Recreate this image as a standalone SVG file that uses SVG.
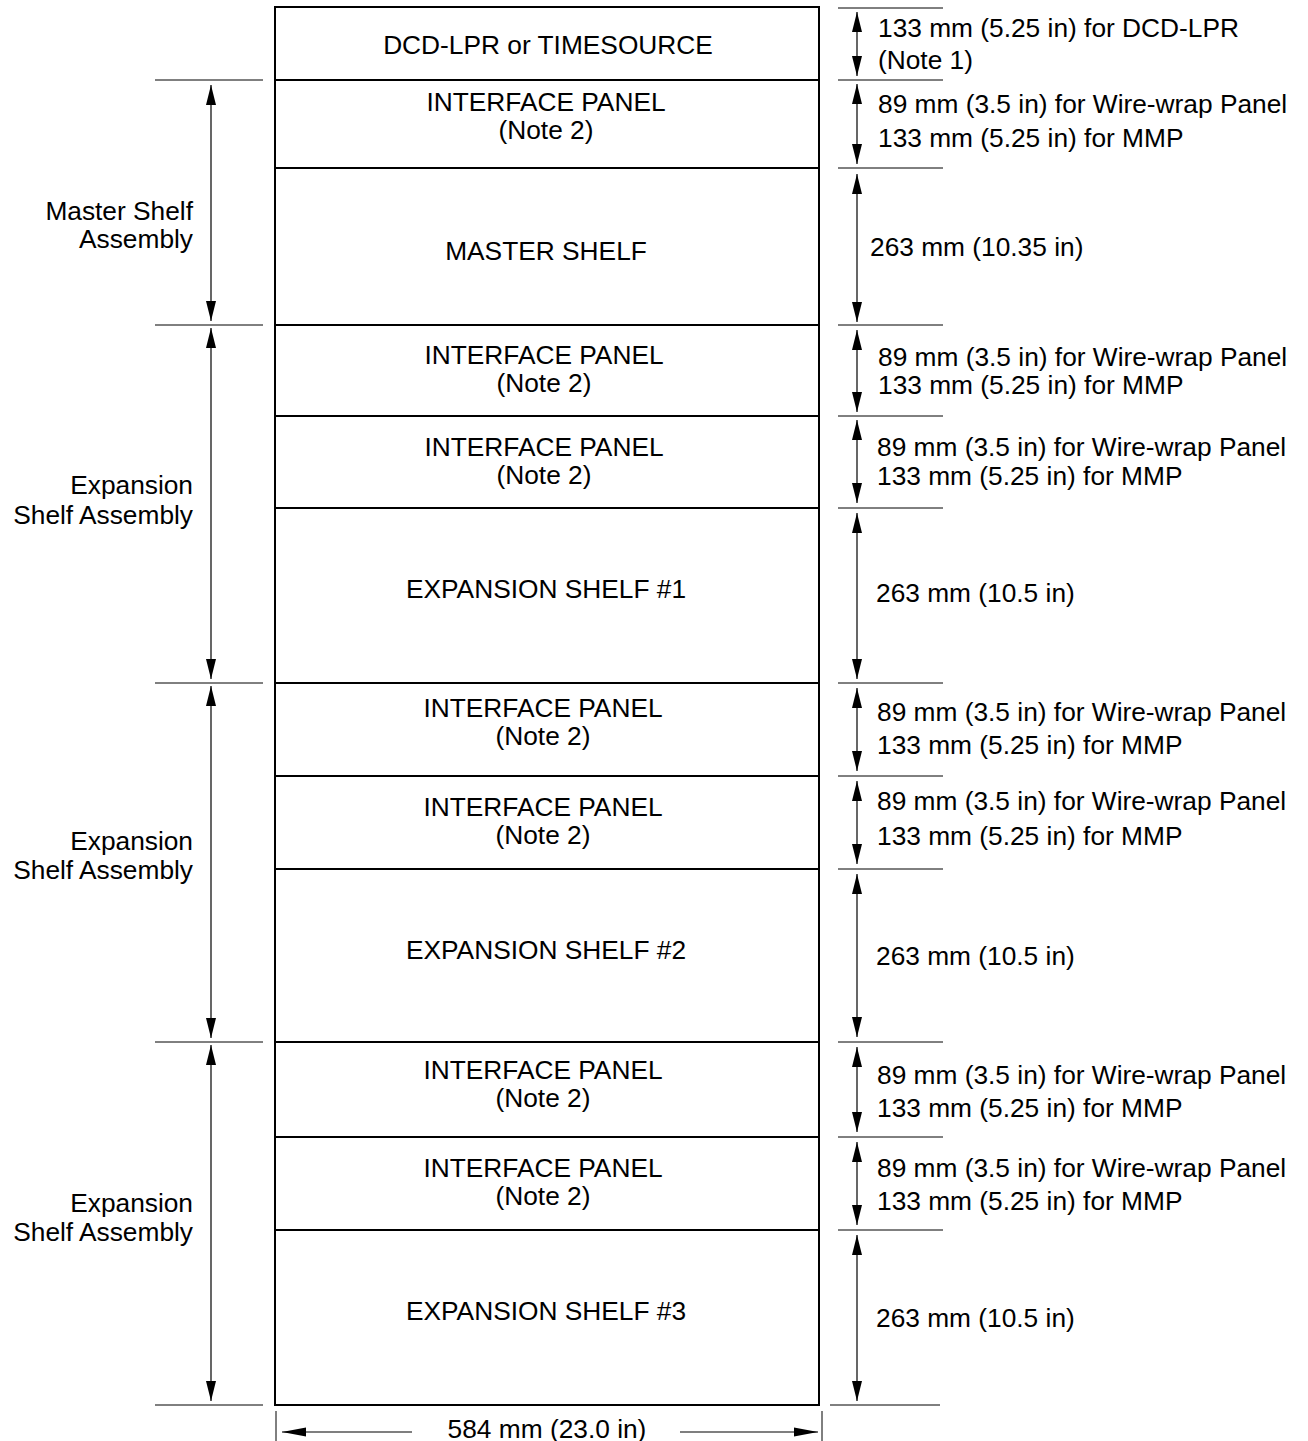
<svg xmlns="http://www.w3.org/2000/svg" width="1308" height="1441" viewBox="0 0 1308 1441">
<style>
text{font-family:"Liberation Sans",Arial,sans-serif;font-size:26.3px;fill:#000}
.c{text-anchor:middle}
.r{text-anchor:end}
.box{fill:#fff;stroke:#000;stroke-width:2}
.ext{stroke:#000;stroke-width:1}
.dim{stroke:#000;stroke-width:1.2;marker-start:url(#ah);marker-end:url(#ah)}
.dimh{stroke:#000;stroke-width:1.2;marker-end:url(#ah2)}
</style>
<defs>
<marker id="ah" markerUnits="userSpaceOnUse" markerWidth="20" markerHeight="11" refX="20" refY="5.5" orient="auto-start-reverse" viewBox="0 0 20 11">
<path d="M0,0.5 L20,5.5 L0,10.5 z" fill="#000"/>
</marker>
<marker id="ah2" markerUnits="userSpaceOnUse" markerWidth="24" markerHeight="10" refX="24" refY="5" orient="auto" viewBox="0 0 24 10">
<path d="M0,0.5 L24,5 L0,9.5 z" fill="#000"/>
</marker>
</defs>
<rect width="1308" height="1441" fill="#fff"/>

<g id="n-dcd"><rect class="box" x="275" y="7" width="544" height="73"/><text class="c" x="548" y="54">DCD-LPR or TIMESOURCE</text></g>
<g id="n-ip1"><rect class="box" x="275" y="80" width="544" height="88"/><text class="c" x="546" y="111">INTERFACE PANEL</text><text class="c" x="546" y="139">(Note 2)</text></g>
<g id="n-master"><rect class="box" x="275" y="168" width="544" height="157"/><text class="c" x="546" y="260">MASTER SHELF</text></g>
<g id="n-ip2"><rect class="box" x="275" y="325" width="544" height="91"/><text class="c" x="544" y="364">INTERFACE PANEL</text><text class="c" x="544" y="392">(Note 2)</text></g>
<g id="n-ip3"><rect class="box" x="275" y="416" width="544" height="92"/><text class="c" x="544" y="456">INTERFACE PANEL</text><text class="c" x="544" y="484">(Note 2)</text></g>
<g id="n-exp1"><rect class="box" x="275" y="508" width="544" height="175"/><text class="c" x="546" y="598">EXPANSION SHELF #1</text></g>
<g id="n-ip4"><rect class="box" x="275" y="683" width="544" height="93"/><text class="c" x="543" y="717">INTERFACE PANEL</text><text class="c" x="543" y="745">(Note 2)</text></g>
<g id="n-ip5"><rect class="box" x="275" y="776" width="544" height="93"/><text class="c" x="543" y="816">INTERFACE PANEL</text><text class="c" x="543" y="844">(Note 2)</text></g>
<g id="n-exp2"><rect class="box" x="275" y="869" width="544" height="173"/><text class="c" x="546" y="959">EXPANSION SHELF #2</text></g>
<g id="n-ip6"><rect class="box" x="275" y="1042" width="544" height="95"/><text class="c" x="543" y="1079">INTERFACE PANEL</text><text class="c" x="543" y="1107">(Note 2)</text></g>
<g id="n-ip7"><rect class="box" x="275" y="1137" width="544" height="93"/><text class="c" x="543" y="1177">INTERFACE PANEL</text><text class="c" x="543" y="1205">(Note 2)</text></g>
<g id="n-exp3"><rect class="box" x="275" y="1230" width="544" height="175"/><text class="c" x="546" y="1320">EXPANSION SHELF #3</text></g>

<g id="left-labels">
<text class="r" x="193" y="220">Master Shelf</text><text class="r" x="193" y="248">Assembly</text>
<text class="r" x="193" y="494">Expansion</text><text class="r" x="193" y="524">Shelf Assembly</text>
<text class="r" x="193" y="850">Expansion</text><text class="r" x="193" y="879">Shelf Assembly</text>
<text class="r" x="193" y="1212">Expansion</text><text class="r" x="193" y="1241">Shelf Assembly</text>
</g>

<g id="right-labels">
<text x="878" y="37">133 mm (5.25 in) for DCD-LPR</text><text x="878" y="69">(Note 1)</text>
<text x="878" y="113">89 mm (3.5 in) for Wire-wrap Panel</text><text x="878" y="147">133 mm (5.25 in) for MMP</text>
<text x="870" y="256">263 mm (10.35 in)</text>
<text x="878" y="366">89 mm (3.5 in) for Wire-wrap Panel</text><text x="878" y="394">133 mm (5.25 in) for MMP</text>
<text x="877" y="456">89 mm (3.5 in) for Wire-wrap Panel</text><text x="877" y="485">133 mm (5.25 in) for MMP</text>
<text x="876" y="602">263 mm (10.5 in)</text>
<text x="877" y="721">89 mm (3.5 in) for Wire-wrap Panel</text><text x="877" y="754">133 mm (5.25 in) for MMP</text>
<text x="877" y="810">89 mm (3.5 in) for Wire-wrap Panel</text><text x="877" y="845">133 mm (5.25 in) for MMP</text>
<text x="876" y="965">263 mm (10.5 in)</text>
<text x="877" y="1084">89 mm (3.5 in) for Wire-wrap Panel</text><text x="877" y="1117">133 mm (5.25 in) for MMP</text>
<text x="877" y="1177">89 mm (3.5 in) for Wire-wrap Panel</text><text x="877" y="1210">133 mm (5.25 in) for MMP</text>
<text x="876" y="1327">263 mm (10.5 in)</text>
</g>

<g id="connectors">
<g class="ext">
<line x1="155" y1="80" x2="263" y2="80"/>
<line x1="155" y1="325" x2="263" y2="325"/>
<line x1="155" y1="683" x2="263" y2="683"/>
<line x1="155" y1="1042" x2="263" y2="1042"/>
<line x1="155" y1="1405" x2="263" y2="1405"/>
<line x1="838" y1="8" x2="943" y2="8"/>
<line x1="838" y1="80" x2="943" y2="80"/>
<line x1="838" y1="168" x2="943" y2="168"/>
<line x1="838" y1="325" x2="943" y2="325"/>
<line x1="838" y1="416" x2="943" y2="416"/>
<line x1="838" y1="508" x2="943" y2="508"/>
<line x1="838" y1="683" x2="943" y2="683"/>
<line x1="838" y1="776" x2="943" y2="776"/>
<line x1="838" y1="869" x2="943" y2="869"/>
<line x1="838" y1="1042" x2="943" y2="1042"/>
<line x1="838" y1="1137" x2="943" y2="1137"/>
<line x1="838" y1="1230" x2="943" y2="1230"/>
<line x1="830" y1="1405" x2="940" y2="1405"/>
<line x1="276" y1="1411" x2="276" y2="1441"/>
<line x1="822" y1="1411" x2="822" y2="1441"/>
</g>
<line class="dim" x1="211" y1="85" x2="211" y2="321"/>
<line class="dim" x1="211" y1="328" x2="211" y2="679"/>
<line class="dim" x1="211" y1="686" x2="211" y2="1038"/>
<line class="dim" x1="211" y1="1045" x2="211" y2="1401"/>

<line class="dim" x1="857" y1="12" x2="857" y2="76"/>
<line class="dim" x1="857" y1="84" x2="857" y2="164"/>
<line class="dim" x1="857" y1="174" x2="857" y2="322"/>
<line class="dim" x1="857" y1="330" x2="857" y2="412"/>
<line class="dim" x1="857" y1="420" x2="857" y2="503"/>
<line class="dim" x1="857" y1="513" x2="857" y2="679"/>
<line class="dim" x1="857" y1="688" x2="857" y2="771"/>
<line class="dim" x1="857" y1="781" x2="857" y2="864"/>
<line class="dim" x1="857" y1="874" x2="857" y2="1037"/>
<line class="dim" x1="857" y1="1047" x2="857" y2="1132"/>
<line class="dim" x1="857" y1="1142" x2="857" y2="1225"/>
<line class="dim" x1="857" y1="1235" x2="857" y2="1401"/>

<line class="dimh" x1="412" y1="1432" x2="282" y2="1432"/>
<line class="dimh" x1="680" y1="1432" x2="818" y2="1432"/>
</g>
<text class="c" x="547" y="1438">584 mm (23.0 in)</text>
</svg>
